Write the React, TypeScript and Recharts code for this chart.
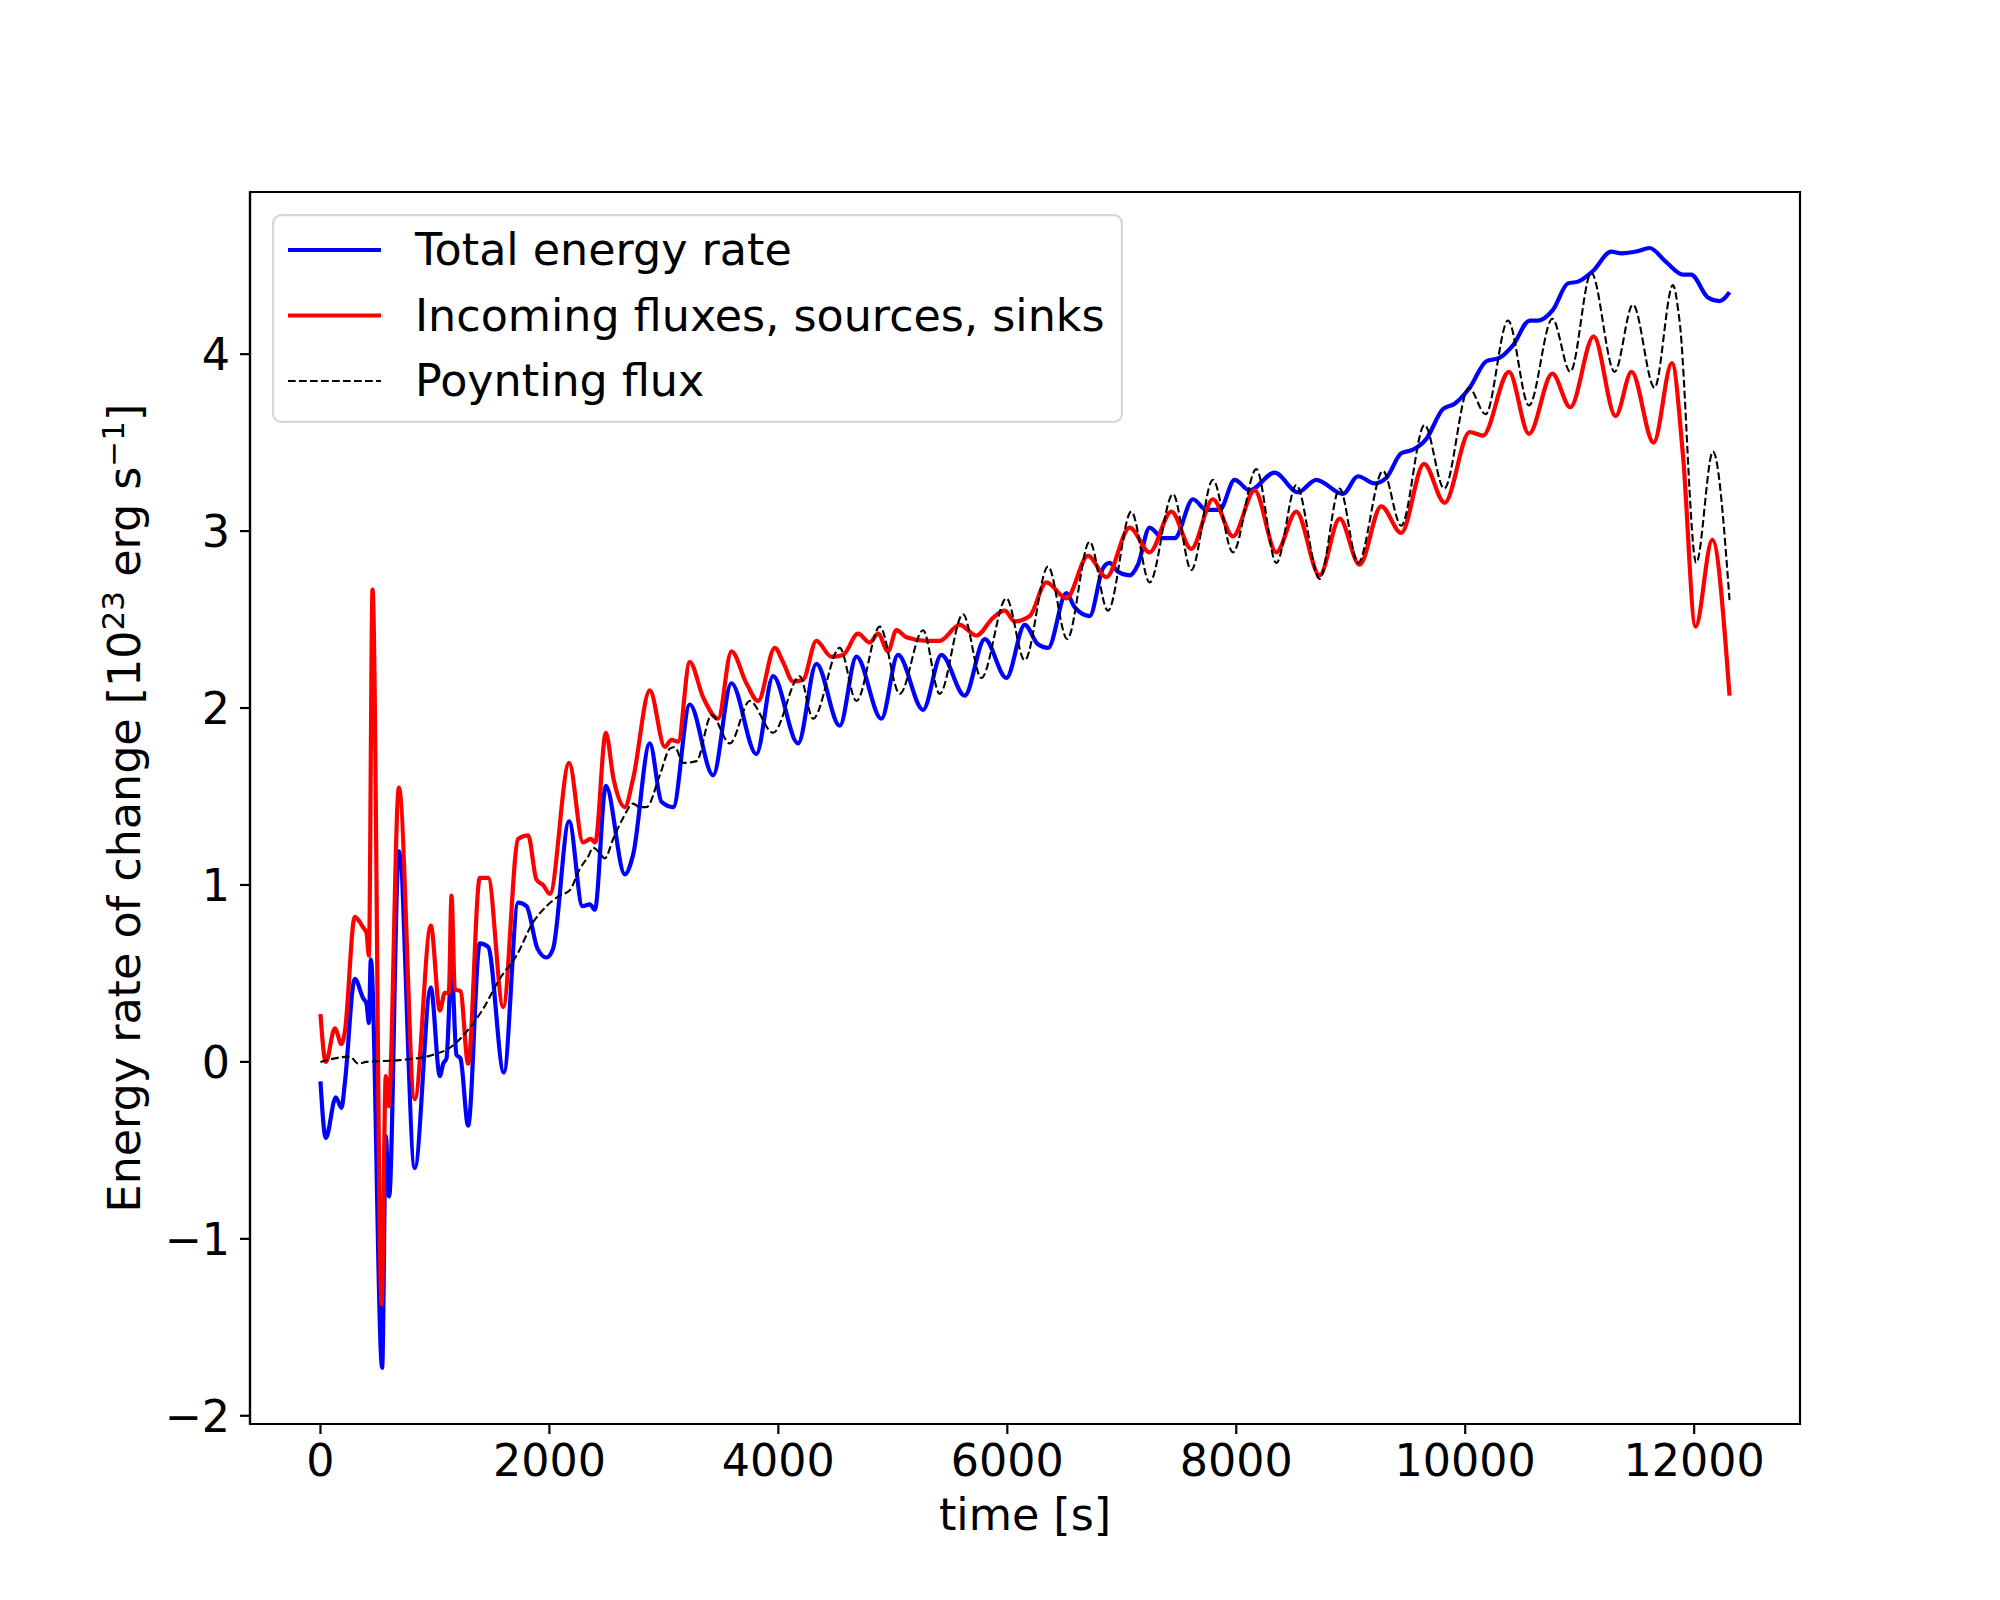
import { LineChart, Line, XAxis, YAxis, Legend, Label, ReferenceArea } from "recharts";

// time [s] and rate [1e23 erg/s]
const seriesNames = ["Total energy rate", "Incoming fluxes, sources, sinks", "Poynting flux"];

const totalTime = [
  0, 47, 134, 184, 213, 300, 373, 402, 423, 440, 539, 571, 600, 685, 824, 964, 1043, 1072, 1101,
  1145, 1188, 1223, 1290, 1392, 1465, 1602, 1727, 1800, 1896, 1974, 2032, 2172, 2289, 2353, 2397, 2493,
  2659, 2731, 2877, 2979, 3081, 3226, 3430, 3590, 3808, 3954, 4172, 4332, 4536, 4682, 4900, 5045, 5264,
  5424, 5628, 5803, 5992, 6152, 6268, 6356, 6516, 6588, 6719, 6836, 6894, 6967, 7069, 7141, 7243, 7360,
  7462, 7622, 7738, 7855, 7986, 8117, 8335, 8539, 8699, 8932, 9063, 9208, 9310, 9441, 9543, 9659, 9806,
  9908, 10039, 10184, 10301, 10417, 10563, 10636, 10766, 10897, 10985, 11116, 11276, 11363, 11494,
  11610, 11756, 11902, 11974, 12120, 12222, 12309,
];
const totalRate = [
  -0.11, -0.43, -0.2, -0.26, -0.12, 0.47, 0.36, 0.33, 0.22, 0.58, -1.73, -0.42, -0.76, 1.19, -0.6,
  0.42, -0.08, -0.01, 0.02, 0.54, 0.04, 0.02, -0.36, 0.67, 0.65, -0.06, 0.9, 0.88, 0.64, 0.59, 0.64,
  1.36, 0.88, 0.89, 0.86, 1.56, 1.06, 1.17, 1.8, 1.47, 1.44, 2.02, 1.62, 2.14, 1.74, 2.18, 1.8, 2.25,
  1.9, 2.29, 1.94, 2.3, 1.99, 2.3, 2.07, 2.39, 2.17, 2.47, 2.36, 2.34, 2.65, 2.57, 2.52, 2.79, 2.82,
  2.77, 2.75, 2.81, 3.02, 2.96, 2.96, 3.18, 3.12, 3.12, 3.29, 3.23, 3.33, 3.22, 3.29, 3.21, 3.31, 3.27,
  3.3, 3.44, 3.46, 3.52, 3.69, 3.72, 3.81, 3.96, 3.98, 4.05, 4.19, 4.19, 4.25, 4.4, 4.41, 4.47, 4.58,
  4.57, 4.58, 4.6, 4.52, 4.45, 4.45, 4.32, 4.3, 4.35,
];

const incomingTime = [
  0, 47, 126, 184, 213, 300, 344, 373, 402, 423, 455, 534, 571, 595, 685, 824, 964, 1043, 1086, 1121,
  1145, 1174, 1223, 1290, 1392, 1465, 1596, 1727, 1814, 1887, 1945, 2004, 2172, 2294, 2360, 2400, 2493,
  2560, 2659, 2731, 2877, 3008, 3066, 3124, 3226, 3343, 3474, 3590, 3721, 3823, 3969, 4041, 4128, 4216,
  4332, 4463, 4565, 4696, 4798, 4871, 4958, 5031, 5118, 5293, 5409, 5584, 5730, 5875, 5977, 6065, 6196,
  6341, 6516, 6705, 6865, 7069, 7243, 7433, 7607, 7796, 7971, 8160, 8350, 8524, 8728, 8903, 9077, 9266,
  9441, 9640, 9820, 10039, 10155, 10382, 10557, 10761, 10918, 11122, 11314, 11453, 11646, 11806, 11902,
  12012, 12158, 12309,
];
const incomingRate = [
  0.27, 0.0, 0.19, 0.1, 0.17, 0.82, 0.79, 0.76, 0.73, 0.6, 2.67, -1.37, -0.08, -0.25, 1.55, -0.21, 0.77,
  0.29, 0.39, 0.39, 0.94, 0.41, 0.4, -0.01, 1.04, 1.04, 0.31, 1.26, 1.28, 1.03, 1.0, 0.95, 1.69, 1.24,
  1.26, 1.24, 1.86, 1.6, 1.44, 1.6, 2.1, 1.78, 1.82, 1.81, 2.26, 2.06, 1.94, 2.32, 2.14, 2.04, 2.34,
  2.26, 2.15, 2.16, 2.38, 2.29, 2.3, 2.42, 2.37, 2.42, 2.32, 2.44, 2.4, 2.38, 2.38, 2.47, 2.41, 2.51,
  2.55, 2.49, 2.52, 2.71, 2.62, 2.86, 2.74, 3.02, 2.88, 3.11, 2.9, 3.18, 2.97, 3.23, 2.88, 3.11, 2.75,
  3.07, 2.81, 3.14, 2.99, 3.38, 3.16, 3.56, 3.54, 3.9, 3.55, 3.89, 3.7, 4.1, 3.65, 3.9, 3.5, 3.95, 3.43,
  2.46, 2.95, 2.07,
];

const poyntingTime = [
  0, 257, 330, 402, 693, 985, 1130, 1276, 1421, 1566, 1712, 1858, 1974, 2091, 2178, 2265, 2338, 2382,
  2440, 2484, 2557, 2645, 2731, 2790, 2848, 2964, 3052, 3095, 3168, 3285, 3416, 3576, 3750, 3954, 4187,
  4303, 4536, 4682, 4886, 5060, 5264, 5409, 5613, 5773, 5992, 6152, 6356, 6523, 6719, 6879, 7083, 7243,
  7447, 7607, 7796, 7971, 8175, 8350, 8524, 8728, 8903, 9063, 9281, 9441, 9645, 9816, 10033, 10178,
  10374, 10557, 10761, 10918, 11101, 11305, 11465, 11654, 11814, 11872, 12018, 12164, 12309,
];
const poyntingRate = [
  0.0, 0.03, -0.01, 0.0, 0.01, 0.04, 0.08, 0.17, 0.3, 0.47, 0.6, 0.79, 0.88, 0.94, 0.97, 1.09, 1.16,
  1.21, 1.18, 1.15, 1.26, 1.38, 1.46, 1.44, 1.44, 1.62, 1.77, 1.78, 1.69, 1.7, 1.96, 1.8, 2.04, 1.86,
  2.18, 1.94, 2.34, 2.04, 2.46, 2.08, 2.44, 2.08, 2.53, 2.17, 2.62, 2.27, 2.8, 2.39, 2.94, 2.55, 3.11,
  2.71, 3.21, 2.78, 3.29, 2.88, 3.35, 2.82, 3.26, 2.73, 3.24, 2.82, 3.34, 3.03, 3.6, 3.24, 3.81, 3.66,
  4.19, 3.71, 4.2, 3.9, 4.46, 3.9, 4.28, 3.81, 4.39, 4.19, 2.82, 3.45, 2.61,
];

const xTicks = [0, 2000, 4000, 6000, 8000, 10000, 12000];
const yTicks = [-2, -1, 0, 1, 2, 3, 4];

const toRows = (time: number[], rate: number[]) => time.map((t, i) => ({ t, v: rate[i] }));
const totalData = toRows(totalTime, totalRate);
const incomingData = toRows(incomingTime, incomingRate);
const poyntingData = toRows(poyntingTime, poyntingRate);

// matplotlib-style 5% margins
const padded = (values: number[]): [number, number] => {
  const lo = Math.min(...values);
  const hi = Math.max(...values);
  const m = (hi - lo) * 0.05;
  return [lo - m, hi + m];
};
const xDomain = padded([...totalTime, ...incomingTime, ...poyntingTime]);
const yDomain = padded([...totalRate, ...incomingRate, ...poyntingRate]);

const font = "DejaVu Sans";
const fontSize = 44.4;
const withMinus = (n: number) => String(n).replace("-", "\u2212");

const tickStyle = { fontSize, fill: "#000", fontFamily: font };
const axisLine = { stroke: "#000", strokeWidth: 2.2 };

function XLabel(props: any) {
  const vb = props.viewBox;
  return (
    <text x={vb.x + vb.width / 2} y={vb.y + 106} textAnchor="middle" fontSize={fontSize} fontFamily={font} fill="#000">
      time [s]
    </text>
  );
}

function YLabel(props: any) {
  const vb = props.viewBox;
  const x = vb.x + 10;
  const y = vb.y + vb.height / 2;
  return (
    <text x={x} y={y} transform={`rotate(-90, ${x}, ${y})`} textAnchor="middle" fontSize={fontSize} fontFamily={font} fill="#000">
      Energy rate of change [10
      <tspan dy={-16} fontSize={31}>23</tspan>
      <tspan dy={16}> erg s</tspan>
      <tspan dy={-16} fontSize={31}>{"\u22121"}</tspan>
      <tspan dy={16}>]</tspan>
    </text>
  );
}

function LegendBox(props: any) {
  const items = [...(props.payload ?? [])].sort(
    (a: any, b: any) => seriesNames.indexOf(a.value) - seriesNames.indexOf(b.value)
  );
  return (
    <svg width={851} height={209} style={{ display: "block" }}>
      <rect x={1.1} y={1.1} width={848.8} height={206.8} rx={8} fill="#fff" fillOpacity={0.8} stroke="#d6d6d6" strokeWidth={2.2} />
      {items.map((item: any, i: number) => {
        const y = 36 + i * 65.5;
        const p = item.payload ?? {};
        return (
          <g key={item.value}>
            <line x1={16} x2={109} y1={y} y2={y} stroke={item.color} strokeWidth={p.strokeWidth ?? 4.2} strokeDasharray={p.strokeDasharray} />
            <text x={143} y={y + 15} fontSize={fontSize} fontFamily={font} fill="#000">
              {item.value}
            </text>
          </g>
        );
      })}
    </svg>
  );
}

export default function App() {
  return (
    <div style={{ position: "absolute", left: 0, top: 0, width: 2000, height: 1600, background: "#fff", fontFamily: font }}>
      <LineChart width={2000} height={1600} margin={{ top: 192, right: 200, bottom: 76, left: 130 }}>
        <XAxis
          type="number"
          dataKey="t"
          domain={xDomain}
          allowDataOverflow
          ticks={xTicks}
          height={100}
          tickSize={10}
          tickMargin={10}
          axisLine={axisLine}
          tickLine={axisLine}
          tick={tickStyle}
          tickFormatter={withMinus}
        >
          <Label content={XLabel} />
        </XAxis>
        <YAxis
          type="number"
          domain={yDomain}
          allowDataOverflow
          ticks={yTicks}
          width={120}
          tickSize={10}
          tickMargin={10}
          axisLine={axisLine}
          tickLine={axisLine}
          tick={tickStyle}
          tickFormatter={withMinus}
        >
          <Label content={YLabel} />
        </YAxis>
        <ReferenceArea
          x1={xDomain[0]}
          x2={xDomain[1]}
          y1={yDomain[0]}
          y2={yDomain[1]}
          fill="none"
          fillOpacity={0}
          stroke="#000"
          strokeWidth={2.2}
          ifOverflow="visible"
        />
        <Line data={totalData} dataKey="v" name={seriesNames[0]} type="monotone" stroke="#0000ff" strokeWidth={4.2} dot={false} activeDot={false} isAnimationActive={false} />
        <Line data={incomingData} dataKey="v" name={seriesNames[1]} type="monotone" stroke="#ff0000" strokeWidth={4.2} dot={false} activeDot={false} isAnimationActive={false} />
        <Line data={poyntingData} dataKey="v" name={seriesNames[2]} type="monotone" stroke="#000000" strokeWidth={2.1} strokeDasharray="7.7 3.3" dot={false} activeDot={false} isAnimationActive={false} />
        <Legend
          layout="horizontal"
          verticalAlign="middle"
          align="center"
          content={LegendBox}
          wrapperStyle={{ left: 272, top: 214, width: 851, height: 209 }}
        />
      </LineChart>
    </div>
  );
}
